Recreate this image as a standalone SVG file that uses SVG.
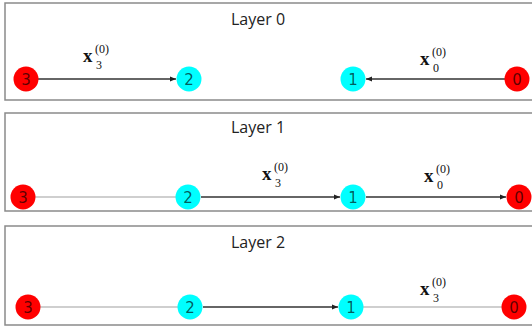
<svg xmlns="http://www.w3.org/2000/svg" width="532" height="326" viewBox="0 0 532 326">
<style>
.panel{fill:#fff;stroke:#8a8a8a;stroke-width:1.5}
.title{font-family:"Open Sans",sans-serif;font-size:16px;fill:#222;text-anchor:middle}
.red{fill:#ff0000}
.cyan{fill:#00ffff}
.nl{font-family:"DejaVu Sans",sans-serif;font-size:15px;fill:#000;fill-opacity:.65;text-anchor:middle}
.dark{stroke:#333;stroke-width:1.3;fill:none;marker-end:url(#ah)}
.light{stroke:#cfcfcf;stroke-width:2;fill:none}
.mx{font-family:"Liberation Serif",serif;font-weight:bold;font-size:19px;fill:#111}
.ms{font-family:"Liberation Serif",serif;font-size:12px;fill:#111}
</style>
<defs>
<marker id="ah" viewBox="0 0 10 10" refX="10" refY="5" markerWidth="6" markerHeight="6" orient="auto" markerUnits="userSpaceOnUse">
<path d="M0,1 L10,5 L0,9 z" fill="#222"/>
</marker>
<filter id="soft" x="-20%" y="-20%" width="140%" height="140%"><feGaussianBlur stdDeviation="0.7"/></filter>
</defs>
<g id="panels">
<rect class="panel" x="5" y="3" width="540" height="97"/>
<rect class="panel" x="5" y="113" width="540" height="98"/>
<rect class="panel" x="5" y="226" width="540" height="99"/>
<text class="title" x="258" y="25">Layer 0</text>
<text class="title" x="258" y="133">Layer 1</text>
<text class="title" x="258" y="248">Layer 2</text>
</g>
<g id="connectors">
<line class="dark" x1="38" y1="79" x2="176" y2="79"/>
<line class="dark" x1="505" y1="79" x2="366" y2="79"/>
<line class="light" x1="23" y1="197" x2="188" y2="197"/>
<line class="dark" x1="201" y1="197" x2="340" y2="197"/>
<line class="dark" x1="366" y1="197" x2="506" y2="197"/>
<line class="light" x1="28" y1="307" x2="190" y2="307"/>
<line class="dark" x1="203" y1="307" x2="338" y2="307"/>
<line class="light" x1="351" y1="307" x2="514" y2="307"/>
</g>
<g id="labels">
<text class="mx" x="83" y="62">x</text><text class="ms" x="95" y="53">(0)</text><text class="ms" x="96" y="69">3</text>
<text class="mx" x="420" y="65">x</text><text class="ms" x="432" y="56">(0)</text><text class="ms" x="433" y="72">0</text>
<text class="mx" x="262" y="180">x</text><text class="ms" x="274" y="171">(0)</text><text class="ms" x="275" y="187">3</text>
<text class="mx" x="424" y="182">x</text><text class="ms" x="436" y="173">(0)</text><text class="ms" x="437" y="189">0</text>
<text class="mx" x="420" y="295">x</text><text class="ms" x="432" y="286">(0)</text><text class="ms" x="433" y="302">3</text>
</g>
<g id="L0-n3"><circle class="red" cx="26" cy="79" r="12.5" filter="url(#soft)"/><text class="nl" x="26" y="84.5">3</text></g>
<g id="L0-n2"><circle class="cyan" cx="189" cy="79" r="12.5" filter="url(#soft)"/><text class="nl" x="189" y="84.5">2</text></g>
<g id="L0-n1"><circle class="cyan" cx="353" cy="79" r="12.5" filter="url(#soft)"/><text class="nl" x="353" y="84.5">1</text></g>
<g id="L0-n0"><circle class="red" cx="517" cy="79" r="12.5" filter="url(#soft)"/><text class="nl" x="517" y="84.5">0</text></g>
<g id="L1-n3"><circle class="red" cx="23" cy="197" r="12.5" filter="url(#soft)"/><text class="nl" x="23" y="202.5">3</text></g>
<g id="L1-n2"><circle class="cyan" cx="188" cy="197" r="12.5" filter="url(#soft)"/><text class="nl" x="188" y="202.5">2</text></g>
<g id="L1-n1"><circle class="cyan" cx="353" cy="197" r="12.5" filter="url(#soft)"/><text class="nl" x="353" y="202.5">1</text></g>
<g id="L1-n0"><circle class="red" cx="519" cy="197" r="12.5" filter="url(#soft)"/><text class="nl" x="519" y="202.5">0</text></g>
<g id="L2-n3"><circle class="red" cx="28" cy="307" r="12.5" filter="url(#soft)"/><text class="nl" x="28" y="312.5">3</text></g>
<g id="L2-n2"><circle class="cyan" cx="190" cy="307" r="12.5" filter="url(#soft)"/><text class="nl" x="190" y="312.5">2</text></g>
<g id="L2-n1"><circle class="cyan" cx="351" cy="307" r="12.5" filter="url(#soft)"/><text class="nl" x="351" y="312.5">1</text></g>
<g id="L2-n0"><circle class="red" cx="514" cy="307" r="12.5" filter="url(#soft)"/><text class="nl" x="514" y="312.5">0</text></g>
</svg>
